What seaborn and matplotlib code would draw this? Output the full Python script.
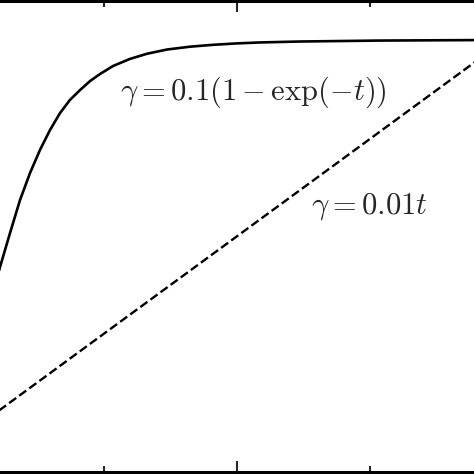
import numpy as np
import pandas as pd
import matplotlib
matplotlib.use("Agg")
import matplotlib.pyplot as plt
import seaborn as sns
from matplotlib.ticker import MultipleLocator

# values (t on x, gamma on y, arbitrary units)
t_solid = [0.180, 0.218, 0.293, 0.368, 0.444, 0.519, 0.594, 0.669, 0.744,
           0.820, 0.895, 0.970, 1.068, 1.195, 1.323, 1.474, 1.647, 1.820,
           2.000, 2.173, 2.474, 3.075, 3.782, 4.0]
g_solid = [0.397, 0.435, 0.507, 0.577, 0.635, 0.684, 0.726, 0.762, 0.790,
           0.811, 0.830, 0.845, 0.862, 0.877, 0.888, 0.897, 0.903, 0.907,
           0.910, 0.912, 0.914, 0.916, 0.917, 0.917]
t_dash = [0.0, 4.0]
g_dash = [0.087, 0.914]

label_solid = r'$\gamma = 0.1(1-\exp(-t))$'
label_dash = r'$\gamma = 0.01t$'

sns.set_style("ticks")
plt.rcParams['mathtext.fontset'] = 'cm'

df_solid = pd.DataFrame({'t': t_solid, 'g': g_solid})
df_dash = pd.DataFrame({'t': t_dash, 'g': g_dash})

fig = plt.figure(figsize=(4.74, 4.74), dpi=100)
# axes wider than the figure: side spines fall outside the crop
ax = fig.add_axes([-29 / 474, 2 / 474, 532 / 474, 471 / 474])

sns.lineplot(data=df_solid, x='t', y='g', ax=ax, color='black', lw=1.9)
sns.lineplot(data=df_dash, x='t', y='g', ax=ax, color='black', lw=1.7,
             dashes=(4.5, 3.2), linestyle='--')

ax.set_xlim(0, 4)
ax.set_ylim(0, 1)
ax.xaxis.set_major_locator(MultipleLocator(2))
ax.xaxis.set_minor_locator(MultipleLocator(1))
ax.set_yticks([])
ax.tick_params(axis='x', which='both', direction='in', top=True, bottom=True,
               labelbottom=False, width=1.5)
ax.tick_params(axis='x', which='major', length=8)
ax.tick_params(axis='x', which='minor', length=4)
for s in ax.spines.values():
    s.set_linewidth(2.2)
    s.set_color('black')
ax.set_xlabel('')
ax.set_ylabel('')

ax.text(1.12, 0.807, label_solid, fontsize=22, va='center', ha='left')
ax.text(2.56, 0.563, label_dash, fontsize=22, va='center', ha='left')

fig.savefig('out.png', dpi=100)
